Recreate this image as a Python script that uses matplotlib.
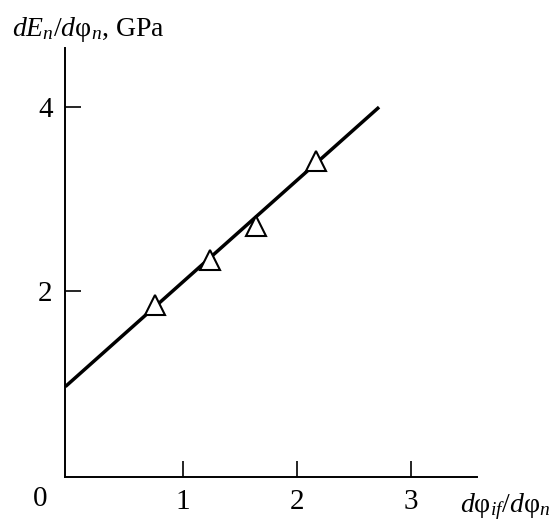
import matplotlib.pyplot as plt
from matplotlib import rcParams

rcParams['font.family'] = 'Liberation Serif'
rcParams['mathtext.fontset'] = 'custom'
rcParams['mathtext.rm'] = 'Liberation Serif'
rcParams['mathtext.it'] = 'Liberation Serif:italic'

# measured points
pts_x = [0.755, 1.24, 1.64, 2.17]
pts_y = [1.85, 2.34, 2.71, 3.41]

# fitted line (ends as drawn)
line_x = [-0.03, 2.72]
line_y = [0.96, 4.0]

xticks = [1, 2, 3]
yticks = [2, 4]

fig = plt.figure(figsize=(5.51, 5.25), dpi=100)
ax = fig.add_axes([0.118, 0.092, 0.748, 0.816])

ax.plot(line_x, line_y, color='black', lw=2.5, solid_capstyle='butt', zorder=2)
ax.plot(pts_x, pts_y, linestyle='none', marker='^', markersize=14,
        markerfacecolor='white', markeredgecolor='black', markeredgewidth=1.5, zorder=3)

ax.set_xlim(-0.033, 3.58)
ax.set_ylim(-0.02, 4.64)

for s in ['top', 'right']:
    ax.spines[s].set_visible(False)
for s in ['left', 'bottom']:
    ax.spines[s].set_linewidth(1.4)

ax.set_xticks(xticks)
ax.set_yticks(yticks)
ax.tick_params(direction='in', length=11.5, width=1.2, labelsize=21, pad=9)

# origin label
ax.text(-0.25, -0.26, '0', fontsize=21, ha='center', va='center')

fig.text(0.022, 0.943, r'$dE_n/d\mathrm{φ}_n$, GPa', fontsize=20, ha='left', va='center')
fig.text(0.999, 0.006, r'$d\mathrm{φ}_{if}/d\mathrm{φ}_n$', fontsize=20, ha='right', va='bottom')

plt.savefig('out.png', dpi=100)
